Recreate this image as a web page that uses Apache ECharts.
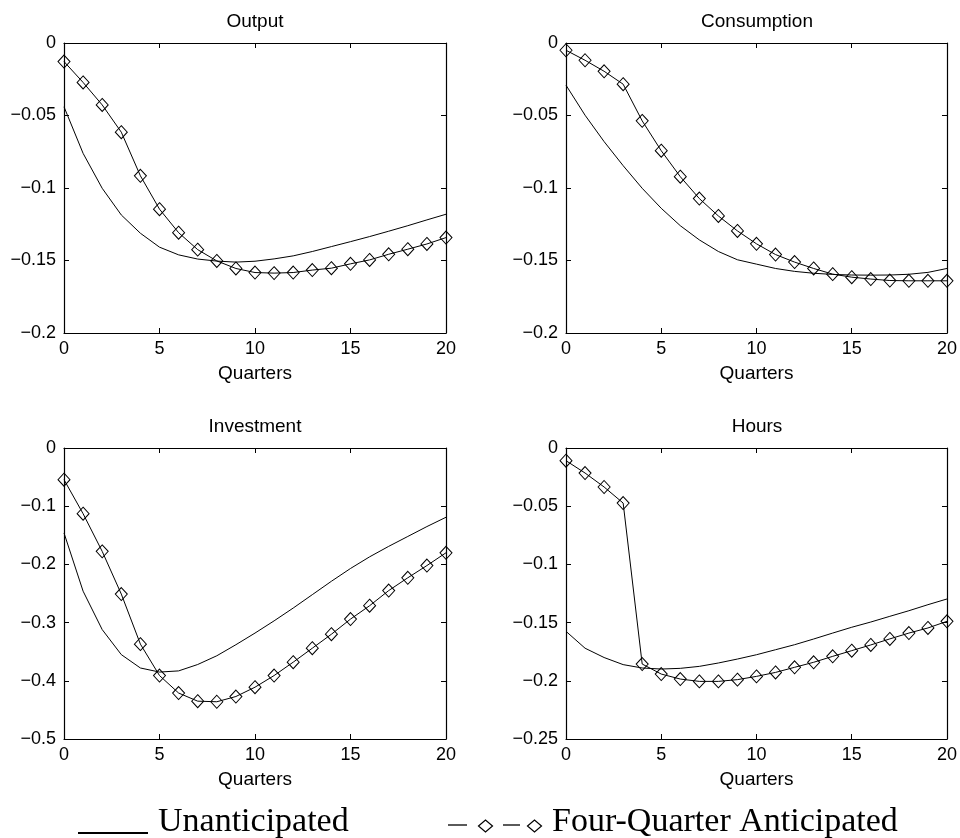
<!DOCTYPE html>
<html lang="en">
<head>
<meta charset="UTF-8">
<title>Impulse responses</title>
<style>
  html, body { margin: 0; padding: 0; background: #fff; }
  #main { width: 960px; height: 838px; }
</style>
</head>
<body>
<div id="main"></div>
<script src="https://cdn.jsdelivr.net/npm/echarts@6/dist/echarts.min.js"></script>
<script>
// quarters on the x axis
var quarters = [0, 1, 2, 3, 4, 5, 6, 7, 8, 9, 10, 11, 12, 13, 14, 15, 16, 17, 18, 19, 20];

// panel titles
var panelTitles = ['Output', 'Consumption', 'Investment', 'Hours'];

// unanticipated (solid line)
var outputUnant = [-0.044, -0.0761, -0.1002, -0.1186, -0.1312, -0.1408, -0.1461, -0.149, -0.1504, -0.1511, -0.1505, -0.1489, -0.1468, -0.1438, -0.1404, -0.137, -0.1335, -0.1298, -0.126, -0.122, -0.1181];
var consUnant = [-0.0291, -0.0498, -0.068, -0.0846, -0.1002, -0.114, -0.126, -0.1358, -0.1438, -0.1495, -0.1525, -0.1555, -0.1575, -0.1588, -0.1596, -0.160, -0.1601, -0.160, -0.1595, -0.1582, -0.1555];
var invUnant = [-0.146, -0.246, -0.312, -0.355, -0.378, -0.385, -0.383, -0.372, -0.357, -0.338, -0.318, -0.297, -0.275, -0.252, -0.229, -0.207, -0.187, -0.169, -0.152, -0.135, -0.119];
var hoursUnant = [-0.1575, -0.172, -0.180, -0.1861, -0.189, -0.1899, -0.1893, -0.1876, -0.1847, -0.1813, -0.1776, -0.1733, -0.169, -0.1641, -0.159, -0.154, -0.1495, -0.1446, -0.1398, -0.1346, -0.1297];

// four-quarter anticipated (line with diamonds)
var outputAnt = [-0.0128, -0.0272, -0.0427, -0.0615, -0.0916, -0.1146, -0.1308, -0.1425, -0.1503, -0.1555, -0.1583, -0.1587, -0.1583, -0.1566, -0.1553, -0.1523, -0.1496, -0.1457, -0.1422, -0.1386, -0.1342];
var consAnt = [-0.005, -0.0119, -0.0195, -0.0284, -0.0537, -0.0743, -0.0922, -0.1073, -0.1193, -0.1296, -0.1385, -0.1459, -0.1511, -0.1555, -0.1594, -0.1615, -0.1628, -0.1638, -0.164, -0.164, -0.164];
var invAnt = [-0.0544, -0.1129, -0.1776, -0.251, -0.337, -0.391, -0.421, -0.435, -0.436, -0.427, -0.411, -0.391, -0.368, -0.344, -0.320, -0.294, -0.271, -0.245, -0.223, -0.202, -0.180];
var hoursAnt = [-0.0109, -0.0215, -0.0335, -0.0473, -0.1856, -0.1942, -0.1985, -0.2005, -0.2005, -0.199, -0.1962, -0.1928, -0.1884, -0.1841, -0.179, -0.1741, -0.1692, -0.164, -0.159, -0.1546, -0.1489];

// y axis ranges per panel
var yMins = [-0.2, -0.2, -0.5, -0.25];
var yIntervals = [0.05, 0.05, 0.1, 0.05];

var unantSets = [outputUnant, consUnant, invUnant, hoursUnant];
var antSets = [outputAnt, consAnt, invAnt, hoursAnt];

var grids = [
    { left: 64, top: 43, width: 382, height: 290 },
    { left: 566, top: 43, width: 382, height: 290 },
    { left: 64, top: 448, width: 382, height: 291 },
    { left: 566, top: 448, width: 382, height: 291 }
];

var sans = '"Liberation Sans", Arial, sans-serif';
var serif = '"Liberation Serif", "DejaVu Serif", serif';

function fmt(v) {
    if (Math.abs(v) < 1e-9) return '0';
    return '\u2212' + String(+Math.abs(v).toFixed(4));
}

function pairs(vals) {
    return quarters.map(function (q, i) { return [q, vals[i]]; });
}

var xAxes = [], yAxes = [], series = [], titles = [];
var tick = { show: true, inside: true, length: 5, lineStyle: { color: '#000', width: 1 } };
var axLine = { show: true, onZero: false, lineStyle: { color: '#000', width: 1.2 } };

grids.forEach(function (g, i) {
    xAxes.push({
        type: 'value', gridIndex: i, min: 0, max: 20, interval: 5, position: 'bottom',
        name: 'Quarters', nameLocation: 'middle', nameGap: 31,
        nameTextStyle: { color: '#000', fontSize: 19, fontFamily: sans },
        axisLine: axLine, axisTick: tick, splitLine: { show: false },
        axisLabel: { color: '#000', fontSize: 18, fontFamily: sans, margin: 7 }
    });
    xAxes.push({
        type: 'value', gridIndex: i, min: 0, max: 20, interval: 5, position: 'top',
        axisLine: axLine, axisTick: tick, splitLine: { show: false },
        axisLabel: { show: false }
    });
    yAxes.push({
        type: 'value', gridIndex: i, min: yMins[i], max: 0, interval: yIntervals[i], position: 'left',
        axisLine: axLine, axisTick: tick, splitLine: { show: false },
        axisLabel: { color: '#000', fontSize: 18, fontFamily: sans, margin: 8, formatter: fmt }
    });
    yAxes.push({
        type: 'value', gridIndex: i, min: yMins[i], max: 0, interval: yIntervals[i], position: 'right',
        axisLine: axLine, axisTick: tick, splitLine: { show: false },
        axisLabel: { show: false }
    });
    titles.push({
        text: panelTitles[i], left: g.left + g.width / 2, top: g.top - 31, textAlign: 'center',
        padding: 0,
        textStyle: { color: '#000', fontSize: 19, fontWeight: 'normal', fontFamily: sans }
    });
    series.push({
        name: 'Unanticipated', type: 'line', xAxisIndex: 2 * i, yAxisIndex: 2 * i,
        data: pairs(unantSets[i]), showSymbol: false, symbol: 'none',
        lineStyle: { color: '#000', width: 1 }, itemStyle: { color: '#000' }
    });
    series.push({
        name: 'Four-Quarter Anticipated', type: 'line', xAxisIndex: 2 * i, yAxisIndex: 2 * i,
        data: pairs(antSets[i]), symbol: 'diamond', symbolSize: [12, 13], showAllSymbol: true,
        lineStyle: { color: '#000', width: 1 },
        itemStyle: { color: 'rgba(0,0,0,0)', borderColor: '#000', borderWidth: 1 }
    });
});

function diamond(cx, cy) {
    return {
        type: 'polygon',
        shape: { points: [[cx - 7, cy], [cx, cy - 6], [cx + 7, cy], [cx, cy + 6]] },
        style: { fill: 'none', stroke: '#000', lineWidth: 1.2 }
    };
}

var legendGraphics = [
    { type: 'line', shape: { x1: 78, y1: 833, x2: 148, y2: 833 }, style: { stroke: '#000', lineWidth: 2 } },
    { type: 'text', x: 158, y: 822, style: { text: 'Unanticipated', fill: '#000', font: '34px ' + serif, verticalAlign: 'middle' } },
    { type: 'line', shape: { x1: 448, y1: 825, x2: 467, y2: 825 }, style: { stroke: '#000', lineWidth: 1.3 } },
    diamond(485.5, 826),
    { type: 'line', shape: { x1: 503, y1: 825, x2: 520, y2: 825 }, style: { stroke: '#000', lineWidth: 1.3 } },
    diamond(534.5, 826),
    { type: 'text', x: 552, y: 822, style: { text: 'Four-Quarter Anticipated', fill: '#000', font: '34px ' + serif, verticalAlign: 'middle' } }
];

var chart = echarts.init(document.getElementById('main'), null, { renderer: 'canvas' });
chart.setOption({
    animation: false,
    backgroundColor: '#fff',
    title: titles,
    grid: grids,
    xAxis: xAxes,
    yAxis: yAxes,
    series: series,
    graphic: legendGraphics
});
</script>
</body>
</html>
